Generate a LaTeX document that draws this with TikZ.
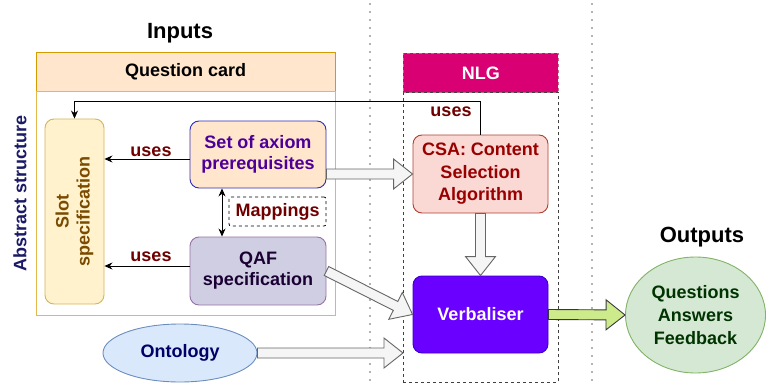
\documentclass[tikz,border=0pt]{standalone}
\usepackage{fontspec}
\setmainfont{Liberation Sans}
\usetikzlibrary{shapes.geometric,arrows.meta,calc}
\definecolor{peach}{HTML}{FFE6CC}
\definecolor{peachdraw}{HTML}{D79B00}
\definecolor{slotfill}{HTML}{FFF2CC}
\definecolor{slotdraw}{HTML}{D6B656}
\definecolor{slottext}{HTML}{7A4A00}
\definecolor{setdraw}{HTML}{2E2EB8}
\definecolor{settext}{HTML}{4C0099}
\definecolor{qaffill}{HTML}{D0CEE2}
\definecolor{qafdraw}{HTML}{9673A6}
\definecolor{qaftext}{HTML}{1A0033}
\definecolor{usetext}{HTML}{700000}
\definecolor{csafill}{HTML}{FAD9D5}
\definecolor{csadraw}{HTML}{AE4132}
\definecolor{csatext}{HTML}{990000}
\definecolor{verbfill}{HTML}{6A00FF}
\definecolor{verbdraw}{HTML}{3700CC}
\definecolor{nlgfill}{HTML}{D80073}
\definecolor{nlgdraw}{HTML}{A50040}
\definecolor{ontofill}{HTML}{DAE8FC}
\definecolor{ontodraw}{HTML}{6C8EBF}
\definecolor{ontotext}{HTML}{000066}
\definecolor{outfill}{HTML}{D5E8D4}
\definecolor{outdraw}{HTML}{82B366}
\definecolor{outtext}{HTML}{003300}
\definecolor{absttext}{HTML}{1A1A66}
\definecolor{arrfill}{HTML}{F5F5F5}
\definecolor{arrdraw}{HTML}{666666}
\definecolor{greenfill}{HTML}{CDEB8B}
\definecolor{greendraw}{HTML}{36393D}
\newcommand{\blockarr}[3]{%
  \path[#1] let \p1=(#2), \p2=(#3), \n1={atan2(\y2-\y1,\x2-\x1)}, \n2={veclen(\x2-\x1,\y2-\y1)} in
    [shift={(\p1)}, rotate=\n1]
    (0pt,-5pt) -- ({(\n2-19)*1pt},-5pt) -- ({(\n2-19)*1pt},-15pt) -- ({\n2*1pt},0pt)
    -- ({(\n2-19)*1pt},15pt) -- ({(\n2-19)*1pt},5pt) -- (0pt,5pt) -- cycle;}
\begin{document}
\begin{tikzpicture}[x=1pt,y=1pt,
  font=\bfseries\fontsize{18}{21}\selectfont,
  box/.style={draw, rounded corners=9pt, line width=0.9pt, align=center, inner sep=2pt},
  thinarr/.style={draw=black, line width=0.9pt, -{Stealth[length=8pt,width=7pt]}},
  dblarr/.style={draw=black, line width=0.9pt, {Stealth[length=8pt,width=7pt]}-{Stealth[length=8pt,width=7pt]}},
  grayarr/.style={fill=arrfill, draw=arrdraw, line width=0.9pt},
  greenarr/.style={fill=greenfill, draw=greendraw, line width=0.9pt},
  sepline/.style={draw=gray!60, line width=1.6pt, dash pattern=on 1.6pt off 6.4pt},
  uselabel/.style={text=usetext, anchor=base, inner sep=0pt},
  title/.style={font=\bfseries\fontsize{22}{26}\selectfont}
  ]
\useasboundingbox (0,0) rectangle (767,-385);
% separators
\draw[sepline] (370,-3) -- (370,-385);
\draw[sepline] (592,-3) -- (592,-385);
% titles
\node[title] (inputs) at (180,-33) {Inputs};
\node[title] (outputs) at (702,-237) {Outputs};
% question card
\node[fill=peach, draw=peachdraw, line width=0.9pt, minimum width=299.5pt, minimum height=39pt, anchor=north west, inner sep=0pt] (qchead) at (35.5,-52) {Question card};
\node[fill=white, draw=peachdraw!70, line width=0.9pt, minimum width=299.5pt, minimum height=224pt, anchor=north west, inner sep=0pt] (qcbody) at (35.5,-91) {};
% NLG
\node[fill=nlgfill, draw=nlgdraw!60, dashed, line width=0.9pt, text=white, minimum width=155pt, minimum height=39pt, anchor=north west, inner sep=0pt] (nlghead) at (403,-53) {NLG};
\node[draw=black!75, dashed, line width=0.9pt, minimum width=155pt, minimum height=290pt, anchor=north west, inner sep=0pt] (nlgbody) at (403,-92) {};
% abstract structure
\node[rotate=90, text=absttext] (abst) at (20,-193) {Abstract structure};
% boxes
\node[box, fill=slotfill, draw=slotdraw, text=slottext, rotate=90, minimum width=185pt, minimum height=59pt] (slot) at (74.5,-211.5) {Slot\\specification};
\node[box, fill=peach, draw=setdraw, text=settext, minimum width=136pt, minimum height=67pt] (set) at (258,-154.5) {Set of axiom\\prerequisites};
\node[box, fill=qaffill, draw=qafdraw, text=qaftext, minimum width=136pt, minimum height=68pt] (qaf) at (258,-271) {QAF\\specification};
\node[draw, dashed, rounded corners=2pt, line width=0.8pt, text=usetext, minimum width=97pt, minimum height=29pt, inner sep=0pt] (map) at (277.5,-211.5) {Mappings};
\node[box, fill=csafill, draw=csadraw, text=csatext, minimum width=135pt, minimum height=78pt, font=\bfseries\fontsize{18}{22.5}\selectfont] (csa) at (480.5,-174) {CSA: Content\\Selection\\Algorithm};
\node[box, fill=verbfill, draw=verbdraw, text=white, minimum width=135pt, minimum height=77pt] (verb) at (480.5,-314.5) {Verbaliser};
\node[ellipse, fill=ontofill, draw=ontodraw, line width=0.9pt, text=ontotext, minimum width=154pt, minimum height=58pt, inner sep=0pt] (onto) at (180,-353) {Ontology};
\node[ellipse, fill=outfill, draw=outdraw, line width=0.9pt, text=outtext, align=center, minimum width=140pt, minimum height=116pt, inner sep=0pt, font=\bfseries\fontsize{18}{23}\selectfont] (out) at (695.5,-315) {Questions\\Answers\\Feedback};
% labels
\node[uselabel] (uses1) at (151,-156) {uses};
\node[uselabel] (uses2) at (151,-261) {uses};
\node[uselabel] (uses3) at (451,-116) {uses};
% thin connectors
\coordinate (setout) at ([yshift=-4.5pt]set.west);
\coordinate (qafout) at ([yshift=5pt]qaf.west);
\draw[thinarr] (setout) -- (slot.south |- setout);
\draw[thinarr] (qafout) -- (slot.south |- qafout);
\coordinate (mx) at (222,0);
\draw[dblarr] (set.south -| mx) -- (qaf.north -| mx);
\coordinate (topy) at (0,-101);
\draw[thinarr] (csa.north) -- (csa.north |- topy) -| (slot.east);
% block arrows
\coordinate (setr) at (set.east |- csa.west);
\blockarr{grayarr}{setr}{csa.west}
\blockarr{grayarr}{csa.south}{verb.north}
\blockarr{grayarr}{qaf.east}{verb.west}
\coordinate (ontoend) at (nlgbody.west |- onto.east);
\blockarr{grayarr}{onto.east}{ontoend}
\blockarr{greenarr}{verb.east}{out.west}
\end{tikzpicture}
\end{document}
